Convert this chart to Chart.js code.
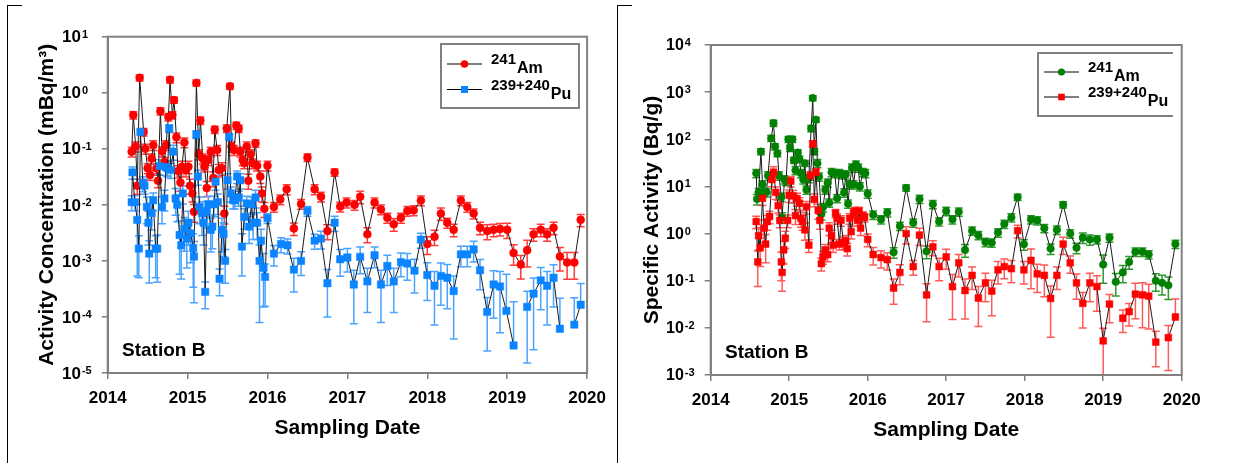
<!DOCTYPE html>
<html lang="en">
<head>
<meta charset="UTF-8">
<title>Station B - Am and Pu</title>
<style>
  html, body { margin: 0; padding: 0; background: #fff; }
  body { width: 1250px; height: 463px; position: relative; overflow: hidden; }
  canvas { position: absolute; top: 0; }
  #leftChart { left: 0; width: 615px; height: 463px; }
  #rightChart { left: 615px; width: 635px; height: 463px; }
  .frame { position: absolute; top: 5px; height: 470px; width: 14px;
           border-left: 1.5px solid #000; border-top: 1.5px solid #000; }
</style>
</head>
<body>
<div class="frame" style="left:7px"></div>
<div class="frame" style="left:617px"></div>
<canvas id="leftChart" width="615" height="463"></canvas>
<canvas id="rightChart" width="635" height="463"></canvas>

<script src="https://cdn.jsdelivr.net/npm/chart.js"></script>
<script>
const FONT = '"Liberation Sans", Arial, sans-serif';

const years = [2014, 2015, 2016, 2017, 2018, 2019, 2020];
const leftDecades = [1e-5, 1e-4, 1e-3, 1e-2, 1e-1, 1, 10];
const rightDecades = [1e-3, 1e-2, 1e-1, 1, 10, 100, 1000, 10000];

// ---- left panel: activity concentration (mBq/m3) ----
const airAmDates = [
  2014.30, 2014.32, 2014.35, 2014.37, 2014.40, 2014.45, 2014.47, 2014.50, 2014.53, 2014.55,
  2014.57, 2014.61, 2014.63, 2014.66, 2014.68, 2014.71, 2014.73, 2014.76, 2014.78, 2014.81,
  2014.83, 2014.86, 2014.88, 2014.91, 2014.93, 2014.96, 2014.98, 2015.01, 2015.03, 2015.06,
  2015.08, 2015.11, 2015.14, 2015.16, 2015.19, 2015.21, 2015.24, 2015.26, 2015.29, 2015.32,
  2015.34, 2015.37, 2015.39, 2015.43, 2015.46, 2015.49, 2015.53, 2015.55, 2015.58, 2015.61,
  2015.64, 2015.66, 2015.69, 2015.71, 2015.74, 2015.76, 2015.79, 2015.81, 2015.85, 2015.87,
  2015.91, 2015.93, 2015.96, 2016.00, 2016.08, 2016.16, 2016.24, 2016.33, 2016.42, 2016.50,
  2016.59, 2016.67, 2016.75, 2016.84, 2016.91, 2016.99, 2017.09, 2017.16, 2017.25, 2017.34,
  2017.42, 2017.50, 2017.58, 2017.67, 2017.75, 2017.83, 2017.92, 2018.00, 2018.09, 2018.17,
  2018.25, 2018.33, 2018.42, 2018.50, 2018.58, 2018.66, 2018.75, 2018.83, 2018.91, 2019.00,
  2019.08, 2019.17, 2019.25, 2019.33, 2019.42, 2019.50, 2019.58, 2019.66, 2019.75, 2019.84,
  2019.92
];
const airAmValues = [
  0.089, 0.40, 0.11, 0.022, 1.85, 0.20, 0.10, 0.045, 0.034, 0.067,
  0.116, 0.045, 0.027, 0.47, 0.09, 0.058, 0.116, 0.37, 1.7, 0.40,
  0.74, 0.16, 0.040, 0.025, 0.048, 0.13, 0.042, 0.048, 0.022, 0.016,
  0.0075, 1.5, 0.08, 0.32, 0.067, 0.048, 0.020, 0.063, 0.089, 0.030,
  0.22, 0.095, 0.042, 0.045, 0.007, 0.23, 1.3, 0.11, 0.095, 0.26,
  0.23, 0.089, 0.063, 0.055, 0.11, 0.027, 0.08, 0.055, 0.125, 0.05,
  0.032, 0.016, 0.0085, 0.05, 0.0092, 0.0125, 0.019, 0.0038, 0.0104, 0.07,
  0.019, 0.014, 0.0034, 0.038, 0.0093, 0.011, 0.010, 0.014, 0.003, 0.011,
  0.0083, 0.0059, 0.0045, 0.0059, 0.0078, 0.008, 0.012, 0.002, 0.0027, 0.007,
  0.0048, 0.0036, 0.012, 0.0092, 0.007, 0.0039, 0.0034, 0.0036, 0.0037, 0.0036,
  0.00139, 0.00086, 0.00155, 0.003, 0.0036, 0.003, 0.0039, 0.0012, 0.00094, 0.00094,
  0.0054
];
// relative uncertainty of each point
const airAmErrors = [
  .2, .15, .2, .3, .12, .15, .2, .2, .2, .2,
  .2, .2, .25, .15, .2, .2, .2, .15, .12, .15,
  .12, .2, .25, .3, .25, .2, .25, .25, .3, .3,
  .35, .12, .2, .15, .2, .2, .3, .2, .2, .3,
  .15, .2, .25, .25, .35, .15, .12, .2, .2, .15,
  .15, .2, .2, .2, .2, .3, .2, .2, .15, .2,
  .25, .3, .3, .2, .2, .2, .2, .25, .2, .15,
  .2, .2, .3, .15, .2, .2, .2, .25, .3, .2,
  .2, .2, .25, .2, .2, .2, .2, .35, .3, .25,
  .2, .25, .2, .2, .2, .25, .3, .25, .25, .3,
  .4, .45, .5, .25, .25, .25, .25, .45, .5, .5,
  .25
];

const airPuDates = [
  2014.30, 2014.31, 2014.34, 2014.37, 2014.39, 2014.41, 2014.44, 2014.46, 2014.49, 2014.51,
  2014.52, 2014.55, 2014.57, 2014.60, 2014.62, 2014.65, 2014.68, 2014.71, 2014.73, 2014.75,
  2014.77, 2014.79, 2014.82, 2014.85, 2014.87, 2014.90, 2014.92, 2014.94, 2014.96, 2014.99,
  2015.01, 2015.04, 2015.07, 2015.08, 2015.11, 2015.13, 2015.15, 2015.18, 2015.20, 2015.22,
  2015.24, 2015.26, 2015.29, 2015.31, 2015.33, 2015.35, 2015.38, 2015.40, 2015.43, 2015.45,
  2015.47, 2015.50, 2015.52, 2015.54, 2015.57, 2015.59, 2015.62, 2015.64, 2015.66, 2015.68,
  2015.71, 2015.74, 2015.77, 2015.80, 2015.82, 2015.85, 2015.87, 2015.90, 2015.92, 2015.95,
  2015.97, 2016.00, 2016.08, 2016.17, 2016.25, 2016.33, 2016.42, 2016.50, 2016.59, 2016.67,
  2016.75, 2016.84, 2016.91, 2017.00, 2017.08, 2017.16, 2017.25, 2017.34, 2017.42, 2017.50,
  2017.58, 2017.67, 2017.75, 2017.84, 2017.92, 2018.00, 2018.09, 2018.17, 2018.25, 2018.33,
  2018.42, 2018.50, 2018.58, 2018.66, 2018.75, 2018.83, 2018.91, 2018.99, 2019.08, 2019.17,
  2019.25, 2019.33, 2019.42, 2019.50, 2019.58, 2019.66, 2019.75, 2019.84, 2019.92
];
const airPuValues = [
  0.0112, 0.038, 0.0112, 0.0054, 0.00166, 0.20, 0.0245, 0.022, 0.0092, 0.0048,
  0.00135, 0.0071, 0.0121, 0.00166, 0.00166, 0.049, 0.0092, 0.013, 0.047, 0.045,
  0.23, 0.042, 0.089, 0.013, 0.010, 0.0029, 0.0019, 0.016, 0.0037, 0.0025,
  0.0048, 0.0031, 0.0017, 0.0012, 0.18, 0.032, 0.0092, 0.0071, 0.0048, 0.00028,
  0.0077, 0.0102, 0.0036, 0.0041, 0.0102, 0.026, 0.0112, 0.00048, 0.0036, 0.003,
  0.001, 0.0275, 0.163, 0.016, 0.0121, 0.0121, 0.032, 0.0135, 0.0275, 0.0018,
  0.0061, 0.0106, 0.0041, 0.0102, 0.0048, 0.0135, 0.0048, 0.001, 0.0023, 0.00075,
  0.00052, 0.0058, 0.00135, 0.0020, 0.0019, 0.0007, 0.001, 0.0078, 0.0023, 0.0025,
  0.0004, 0.0048, 0.00107, 0.00115, 0.00038, 0.00118, 0.00043, 0.00126, 0.00038, 0.00081,
  0.00043, 0.00095, 0.0009, 0.00067, 0.0024, 0.00056, 0.00036, 0.00054, 0.0005, 0.00029,
  0.00131, 0.00131, 0.0016, 0.00068, 0.000123, 0.00038, 0.00035, 0.000128, 0.000031, null,
  0.000151, 0.00026, 0.00045, 0.00036, 0.0005, 0.0000615, null, 0.000073, 0.000165
];
const airPuErrors = [
  .3, .25, .3, .9, .7, .1, .3, .3, .5, .6,
  .7, .5, .35, .7, .75, .3, .5, .4, .3, .3,
  .15, .3, .3, .5, .5, .8, .75, .35, .6, .7,
  .6, .7, .8, .85, .15, .3, .5, .6, .6, .5,
  .5, .4, .6, .6, .4, .3, .4, .5, .6, .6,
  .6, .3, .12, .3, .3, .3, .25, .3, .3, .7,
  .4, .35, .5, .35, .5, .35, .5, .92, .6, .8,
  .7, .2, .4, .3, .3, .6, .45, .2, .3, .35,
  .75, .3, .5, .45, .8, .5, .72, .4, .79, .55,
  .72, .45, .5, .6, .3, .65, .8, .7, .72, .86,
  .4, .4, .4, .55, .8, .75, .85, 3.5, 5, 0,
  .9, .9, .7, .8, .7, 2.5, 0, 2, 1.4
];

// ---- right panel: specific activity (Bq/g) ----
const specAmDates = [
  2014.58, 2014.59, 2014.61, 2014.64, 2014.66, 2014.68, 2014.71, 2014.73, 2014.77, 2014.80,
  2014.82, 2014.85, 2014.87, 2014.90, 2014.91, 2014.94, 2014.96, 2014.99, 2015.01, 2015.04,
  2015.06, 2015.08, 2015.11, 2015.13, 2015.15, 2015.18, 2015.20, 2015.22, 2015.25, 2015.28,
  2015.30, 2015.32, 2015.34, 2015.36, 2015.38, 2015.41, 2015.43, 2015.46, 2015.49, 2015.51,
  2015.54, 2015.58, 2015.61, 2015.64, 2015.67, 2015.70, 2015.72, 2015.75, 2015.77, 2015.80,
  2015.82, 2015.85, 2015.88, 2015.90, 2015.94, 2015.97, 2016.00, 2016.07, 2016.17, 2016.25,
  2016.33, 2016.41, 2016.49, 2016.58, 2016.66, 2016.75, 2016.83, 2016.91, 2017.00, 2017.08,
  2017.16, 2017.24, 2017.33, 2017.41, 2017.50, 2017.58, 2017.66, 2017.74, 2017.83, 2017.91,
  2017.99, 2018.08, 2018.16, 2018.25, 2018.33, 2018.41, 2018.49, 2018.58, 2018.66, 2018.74,
  2018.83, 2018.92, 2019.00, 2019.08, 2019.16, 2019.25, 2019.33, 2019.41, 2019.50, 2019.58,
  2019.67, 2019.75, 2019.83, 2019.92
];
const specAmValues = [
  19, 5.4, 7.5, 55, 11, 7.5, 7.5, 17, 105, 220,
  70, 50, 17, 6, 2.2, 14, 13, 100, 65, 100,
  36, 22, 52, 38, 19, 14, 31, 8.5, 15, 170,
  750, 55, 260, 31, 16, 2.6, 3.6, 8.5, 12, 4.5,
  20, 19, 5.6, 19, 18, 7.4, 18, 4.3, 11, 25,
  11, 29, 25, 10, 20, 19, 7, 2.5, 2, 2.8,
  0.40, 1.45, 9.3, 1.7, 5.4, 0.42, 4.2, 1.8, 3, 2,
  2.9, 0.45, 1.15, 0.92, 0.66, 0.64, 1.05, 1.6, 2.2, 5.9,
  0.59, 2, 1.9, 1.3, 0.48, 1.2, 4.1, 1.0, 0.5, 0.82,
  0.75, 0.75, 0.22, 0.82, 0.095, 0.15, 0.25, 0.41, 0.41, 0.36,
  0.1, 0.09, 0.08, 0.6
];
const specAmErrors = [
  .2, .25, .2, .15, .2, .2, .2, .2, .15, .15,
  .15, .15, .2, .2, .25, .2, .2, .15, .15, .15,
  .15, .2, .15, .15, .2, .2, .15, .2, .2, .15,
  .12, .15, .12, .2, .2, .25, .2, .2, .2, .2,
  .2, .2, .2, .2, .2, .2, .2, .2, .2, .2,
  .2, .2, .2, .2, .2, .2, .2, .2, .2, .2,
  .25, .2, .15, .2, .2, .3, .2, .2, .2, .2,
  .2, .3, .2, .2, .2, .2, .2, .2, .2, .15,
  .25, .2, .2, .2, .25, .2, .15, .2, .25, .25,
  .25, .2, .6, .2, .5, .4, .3, .2, .2, .2,
  .4, .45, .5, .2
];

const specPuDates = [
  2014.58, 2014.60, 2014.61, 2014.63, 2014.66, 2014.68, 2014.70, 2014.72, 2014.75, 2014.78,
  2014.80, 2014.83, 2014.86, 2014.88, 2014.90, 2014.91, 2014.93, 2014.95, 2014.98, 2015.00,
  2015.02, 2015.05, 2015.08, 2015.10, 2015.13, 2015.15, 2015.17, 2015.20, 2015.22, 2015.25,
  2015.27, 2015.30, 2015.32, 2015.34, 2015.37, 2015.39, 2015.41, 2015.43, 2015.46, 2015.49,
  2015.51, 2015.54, 2015.56, 2015.59, 2015.61, 2015.64, 2015.66, 2015.69, 2015.72, 2015.74,
  2015.77, 2015.79, 2015.82, 2015.84, 2015.87, 2015.89, 2015.91, 2015.94, 2015.96, 2016.00,
  2016.07, 2016.17, 2016.25, 2016.33, 2016.41, 2016.49, 2016.58, 2016.66, 2016.75, 2016.83,
  2016.91, 2017.00, 2017.08, 2017.16, 2017.24, 2017.33, 2017.41, 2017.50, 2017.58, 2017.66,
  2017.74, 2017.83, 2017.91, 2017.99, 2018.08, 2018.16, 2018.25, 2018.33, 2018.41, 2018.49,
  2018.58, 2018.66, 2018.74, 2018.83, 2018.92, 2019.00, 2019.08, 2019.16, 2019.25, 2019.33,
  2019.41, 2019.50, 2019.58, 2019.67, 2019.75, 2019.83, 2019.92
];
const specPuValues = [
  1.8, 0.25, 0.9, 0.5, 5.6, 1.3, 0.6, 1.8, 2.3, 14,
  20, 7.5, 3.9, 1.9, 0.25, 0.15, 0.45, 0.8, 1.9, 6.5,
  13, 6.3, 2.4, 5.5, 4.4, 2.1, 1.8, 1.2, 3.7, 0.57,
  17, 80, 5.3, 20, 3.1, 1.9, 0.23, 0.32, 0.45, 0.36,
  1.3, 0.9, 0.57, 2.7, 2.1, 0.6, 1.9, 0.65, 0.7, 0.48,
  2.1, 1.1, 2.7, 3.0, 1.9, 3, 1.3, 2.4, 2.2, 0.75,
  0.36, 0.31, 0.28, 0.07, 0.15, 1.0, 0.2, 0.93, 0.05, 0.52,
  0.2, 0.32, 0.075, 0.24, 0.062, 0.13, 0.043, 0.09, 0.06, 0.17,
  0.2, 0.18, 1.15, 0.17, 0.27, 0.14, 0.13, 0.042, 0.13, 0.6,
  0.24, 0.09, 0.033, 0.09, 0.075, 0.0053, 0.032, null, 0.016, 0.022,
  0.052, 0.05, 0.047, 0.005, null, 0.0062, 0.017
];
const specPuErrors = [
  .3, .7, .5, .6, .3, .5, .6, .35, .3, .3,
  .3, .3, .3, .3, .6, .6, .5, .4, .3, .3,
  .25, .3, .35, .3, .3, .35, .35, .4, .3, .3,
  .2, .15, .3, .2, .35, .35, .3, .3, .3, .3,
  .3, .3, .3, .2, .25, .25, .25, .3, .3, .3,
  .25, .3, .2, .2, .25, .2, .3, .2, .2, .3,
  .4, .4, .4, .55, .45, .4, .35, .4, .73, .35,
  .5, .45, .8, .5, .75, .5, .75, .6, .7, .5,
  .45, .5, .3, .5, .75, .6, .65, .85, .5, .4,
  .4, .55, .7, .6, .7, .85, .6, 0, .5, .5,
  .7, .8, .8, .7, 0, .8, 1.4
];

function points(dates, values, errors) {
  return dates.map((d, i) => ({ x: d, y: values[i], e: errors[i] }));
}

// vertical error bars with caps, drawn under the markers
const errorBars = {
  id: 'errorBars',
  beforeDatasetsDraw(chart) {
    const { ctx, chartArea, scales: { x, y } } = chart;
    ctx.save();
    ctx.beginPath();
    ctx.rect(chartArea.left, chartArea.top, chartArea.width, chartArea.height);
    ctx.clip();
    ctx.lineWidth = 1.5;
    chart.data.datasets.forEach(ds => {
      ctx.strokeStyle = ds.errorColor;
      ds.data.forEach(p => {
        if (p.y == null || !p.e) return;
        const px = x.getPixelForValue(p.x);
        const top = y.getPixelForValue(p.y * (1 + p.e));
        const low = p.y * (1 - p.e);
        const mid = y.getPixelForValue(p.y);
        const bot = low > 0 ? y.getPixelForValue(low) : null;
        ctx.beginPath();
        ctx.moveTo(px, bot == null ? mid : bot);
        ctx.lineTo(px, top);
        ctx.moveTo(px - 4, top); ctx.lineTo(px + 4, top);
        if (bot != null) { ctx.moveTo(px - 4, bot); ctx.lineTo(px + 4, bot); }
        ctx.stroke();
      });
    });
    ctx.restore();
  }
};

function drawMarker(ctx, style, color, x, y, r) {
  ctx.fillStyle = color;
  ctx.beginPath();
  if (style === 'circle') ctx.arc(x, y, r, 0, Math.PI * 2);
  else ctx.rect(x - r, y - r, 2 * r, 2 * r);
  ctx.fill();
}

// decoration per panel: frame of the plot, 10^n labels, legend, station text
function decor(opts) {
  return {
    id: 'decor',
    afterDraw(chart) {
      const { ctx, chartArea: a } = chart;
      const y = chart.scales.y;
      ctx.save();
      ctx.strokeStyle = '#808080';
      ctx.lineWidth = 2;
      ctx.strokeRect(a.left, a.top, a.width, a.height);

      ctx.fillStyle = '#000';
      ctx.textAlign = 'left';
      opts.decades.forEach(v => {
        const py = y.getPixelForValue(v);
        ctx.font = 'bold ' + opts.tickSize + 'px ' + FONT;
        ctx.textBaseline = 'middle';
        ctx.fillText('10', opts.labelX, py + 1);
        const w = ctx.measureText('10').width;
        ctx.font = 'bold 11px ' + FONT;
        ctx.textBaseline = 'alphabetic';
        ctx.fillText(String(Math.round(Math.log10(v))), opts.labelX + w + 1, py + 1);
      });

      ctx.font = 'bold 19px ' + FONT;
      ctx.textBaseline = 'middle';
      ctx.fillText('Station B', opts.station[0], opts.station[1]);

      const L = opts.legend;
      ctx.strokeStyle = '#808080';
      ctx.lineWidth = 2;
      ctx.beginPath();
      ctx.moveTo(L.right, L.top); ctx.lineTo(L.left, L.top);
      ctx.lineTo(L.left, L.bottom); ctx.lineTo(L.right, L.bottom);
      if (L.closed) ctx.closePath();
      ctx.stroke();
      L.rows.forEach(row => {
        ctx.strokeStyle = '#000';
        ctx.lineWidth = 1.2;
        ctx.beginPath();
        ctx.moveTo(L.lineX[0], row.y); ctx.lineTo(L.lineX[1], row.y);
        ctx.stroke();
        drawMarker(ctx, row.marker, row.color, (L.lineX[0] + L.lineX[1]) / 2, row.y, row.r);
        ctx.fillStyle = '#000';
        ctx.textBaseline = 'middle';
        ctx.font = 'bold 15px ' + FONT;
        ctx.fillText(row.mass, L.textX, row.y - 4);
        const w = ctx.measureText(row.mass).width;
        ctx.font = 'bold 16px ' + FONT;
        ctx.fillText(row.element, L.textX + w + 1, row.y + 5);
      });
      ctx.restore();
    }
  };
}

function makeChart(id, p) {
  const datasets = p.series.map(s => ({
    data: points(s.dates, s.values, s.errors),
    borderColor: '#1a1a1a',
    borderWidth: 1,
    pointStyle: s.marker === 'circle' ? 'circle' : 'rect',
    pointRadius: s.radius,
    pointBackgroundColor: s.color,
    pointBorderColor: s.color,
    pointBorderWidth: 0.5,
    errorColor: s.errorColor,
    order: s.order,
    spanGaps: false,
    tension: 0
  }));
  return new Chart(document.getElementById(id), {
    type: 'line',
    data: { datasets },
    options: {
      responsive: false,
      animation: false,
      layout: { padding: p.padding },
      plugins: { legend: { display: false }, tooltip: { enabled: false } },
      scales: {
        x: {
          type: 'linear',
          min: 2014, max: 2020,
          afterBuildTicks: s => { s.ticks = years.map(v => ({ value: v })); },
          afterFit: s => { s.height = p.xHeight; },
          ticks: {
            callback: v => String(v),
            color: '#000',
            font: { family: FONT, size: 17, weight: 'bold' },
            padding: 9,
            maxRotation: 0,
            autoSkip: false
          },
          grid: { drawOnChartArea: false, tickLength: 6, color: '#808080', lineWidth: 1.5 },
          border: { color: '#808080', width: 2 },
          title: {
            display: true,
            text: 'Sampling Date',
            color: '#000',
            font: { family: FONT, size: 21, weight: 'bold', lineHeight: 1.2 },
            padding: { top: 0, bottom: p.xTitlePad }
          }
        },
        y: {
          type: 'logarithmic',
          min: p.decades[0], max: p.decades[p.decades.length - 1],
          afterBuildTicks: s => { s.ticks = p.decades.map(v => ({ value: v })); },
          afterFit: s => { s.width = p.yWidth; },
          ticks: { display: false },
          grid: { drawOnChartArea: false, tickLength: 6, color: '#808080', lineWidth: 1.5 },
          border: { color: '#808080', width: 2 },
          title: {
            display: true,
            text: p.yTitle,
            color: '#000',
            font: { family: FONT, size: 21, weight: 'bold', lineHeight: 1.2 },
            padding: { top: p.yTitlePad, bottom: 0 }
          }
        }
      }
    },
    plugins: [errorBars, decor(p.decor)]
  });
}

makeChart('leftChart', {
  padding: { left: 7.7, top: 36.7, right: 27.4, bottom: 0 },
  yWidth: 100,
  xHeight: 90,
  xTitlePad: 22,
  yTitlePad: 26.5,
  decades: leftDecades,
  yTitle: 'Activity Concentration (mBq/m³)',
  series: [
    { dates: airAmDates, values: airAmValues, errors: airAmErrors, marker: 'circle',
      radius: 4, color: '#ff0000', errorColor: '#ff3b3b', order: 2 },
    { dates: airPuDates, values: airPuValues, errors: airPuErrors, marker: 'rect',
      radius: 5.2, color: '#0a84ff', errorColor: '#4aa3ff', order: 1 }
  ],
  decor: {
    decades: leftDecades, tickSize: 17, labelX: 62,
    station: [122, 351],
    legend: {
      left: 441, right: 579, top: 44, bottom: 108, closed: true,
      lineX: [447, 482], textX: 491,
      rows: [
        { y: 64, marker: 'circle', color: '#ff0000', r: 3.8, mass: '241', element: 'Am' },
        { y: 89.5, marker: 'rect', color: '#0a84ff', r: 3.5, mass: '239+240', element: 'Pu' }
      ]
    }
  }
});

makeChart('rightChart', {
  padding: { left: 0, top: 45, right: 68.3, bottom: 0 },
  yWidth: 95.7,
  xHeight: 88,
  xTitlePad: 20,
  yTitlePad: 24.4,
  decades: rightDecades,
  yTitle: 'Specific Activity (Bq/g)',
  series: [
    { dates: specAmDates, values: specAmValues, errors: specAmErrors, marker: 'circle',
      radius: 3.8, color: '#008000', errorColor: '#2e9a2e', order: 2 },
    { dates: specPuDates, values: specPuValues, errors: specPuErrors, marker: 'rect',
      radius: 4.8, color: '#ff0000', errorColor: '#ff5a5a', order: 1 }
  ],
  decor: {
    decades: rightDecades, tickSize: 16, labelX: 51,
    station: [110, 353],
    legend: {
      left: 423, right: 558, top: 53, bottom: 116, closed: false,
      lineX: [429, 464], textX: 473,
      rows: [
        { y: 72, marker: 'circle', color: '#008000', r: 3.6, mass: '241', element: 'Am' },
        { y: 97, marker: 'rect', color: '#ff0000', r: 3.3, mass: '239+240', element: 'Pu' }
      ]
    }
  }
});
</script>
</body>
</html>
